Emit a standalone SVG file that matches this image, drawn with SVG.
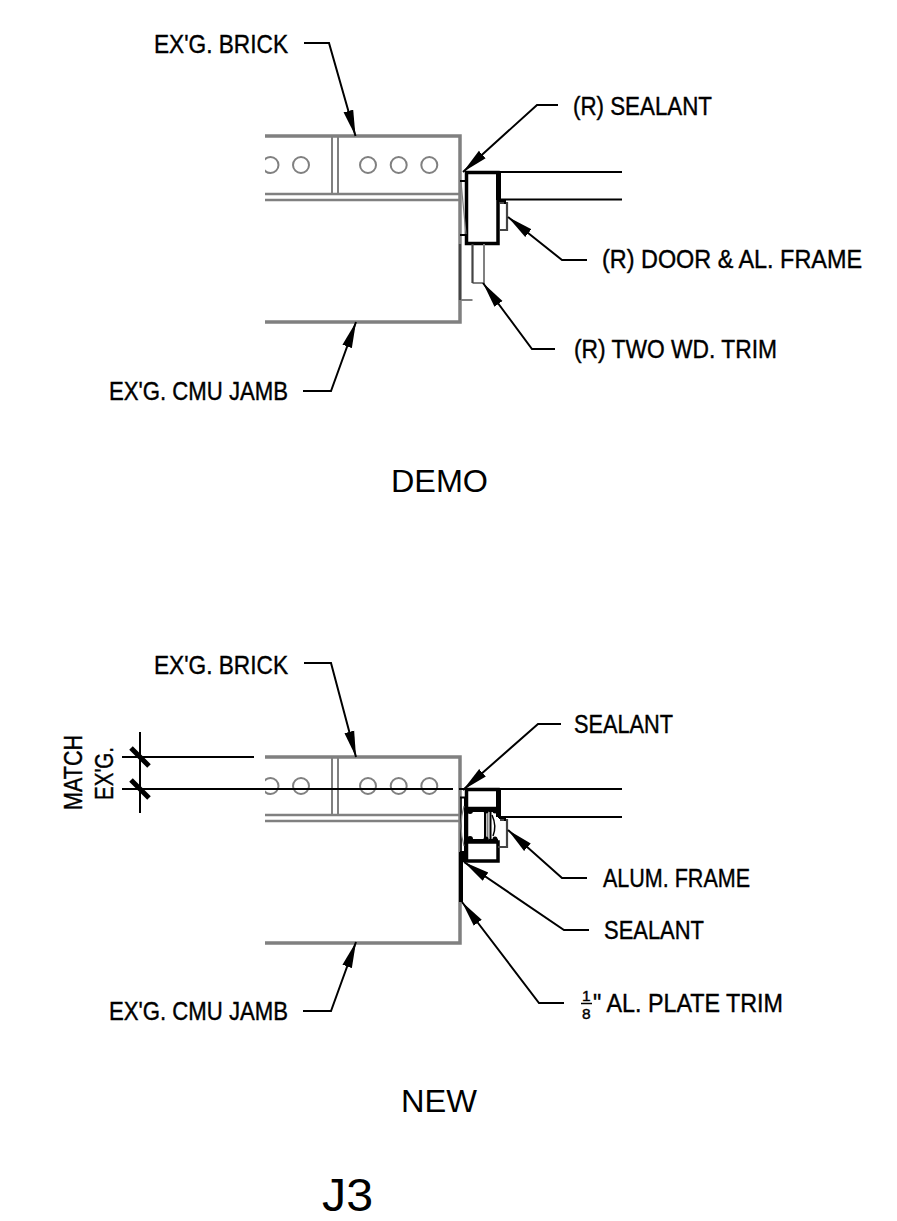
<svg xmlns="http://www.w3.org/2000/svg" width="897" height="1221" viewBox="0 0 897 1221">
<style>
.bg{fill:#fff}
.wall{fill:none;stroke:#808080;stroke-width:3.5}
.g{fill:none;stroke:#808080;stroke-width:2}
.dg{fill:none;stroke:#444;stroke-width:2.2}
.k{fill:none;stroke:#000;stroke-width:2}
.kb{fill:none;stroke:#000;stroke-width:3.500}
.s{fill:#000;stroke:none}
.lead{fill:none;stroke:#000;stroke-width:2;marker-end:url(#ah)}
.tick{stroke:#000;stroke-width:5;fill:none}
.lab{font-family:"Liberation Sans",Arial,sans-serif;font-size:25.500px;fill:#000;stroke:#000;stroke-width:.4}
.frac{font-size:15.500px}
.title{font-family:"Liberation Sans",Arial,sans-serif;fill:#000}
</style>
<defs>
<marker id="ah" markerUnits="userSpaceOnUse" markerWidth="28" markerHeight="12" refX="26" refY="6" orient="auto"><path d="M0 1 L26 6 L0 11 Z" fill="#000"/></marker>
<clipPath id="c"><rect x="265" y="100" width="200" height="900"/></clipPath>
<g id="wall">
<path class="wall" d="M265 136H460V322H265"/>
<path class="g" d="M332 136V194M338 136V194"/>
<path class="g" style="stroke-width:2.500" d="M265 194H460M265 200H460"/>
<g class="g" clip-path="url(#c)"><circle cx="270.500" cy="165" r="8"/><circle cx="301" cy="165" r="8"/><circle cx="368" cy="165" r="8"/><circle cx="398.700" cy="165" r="8"/><circle cx="429.300" cy="165" r="8"/></g>
</g>
</defs>
<rect class="bg" width="897" height="1221"/>
<g id="demo-jamb"><use href="#wall"/></g>
<g id="demo-frame">
<rect class="kb" x="466.500" y="172.500" width="31.500" height="71"/>
<rect class="s" x="496" y="171" width="5" height="29"/>
<path class="k" d="M498 172H622M498 199.500H622"/>
<path class="k" d="M460 181H466V235H460"/>
<path class="g" style="stroke-width:1.200" d="M461 182L466 234"/>
<path class="dg" d="M500 203H507V230H500"/>
<path class="k" d="M499 201H505V204"/>
</g>
<g id="demo-trim">
<path class="g" d="M472.500 300H460V244M472.500 283H484V244"/>
<path class="dg" d="M460 244V300M472.500 244V283"/>
</g>
<g id="new-jamb"><use href="#wall" y="621"/></g>
<g id="new-frame">
<rect class="kb" x="466.500" y="789.500" width="31.500" height="19"/>
<rect class="kb" x="466.500" y="842" width="31.500" height="19"/>
<rect class="s" x="496" y="788" width="5" height="29"/>
<path class="k" d="M498 789H622M498 817H622"/>
<path class="kb" d="M466.500 808V842"/>
<path class="k" d="M468 811H498M468 840H498"/>
<path class="k" d="M485 811V840M490.500 811V840"/>
<path class="g" d="M487.500 811V840"/>
<path class="k" style="stroke-width:1.500" d="M492 815Q497 826 493 836"/>
<path class="k" d="M460 797.500H466M460 852H466M465 797V862"/>
<rect class="s" x="459" y="852" width="7" height="10"/>
<path class="k" style="stroke-width:1.500" d="M461 798V852"/>
<path class="g" style="stroke-width:1.200" d="M464 806Q458 826 464 846"/>
<g class="s"><circle cx="470" cy="811" r="3"/><circle cx="470" cy="839" r="3"/><circle cx="486" cy="811" r="2.500"/><circle cx="495" cy="811" r="2.500"/><circle cx="486" cy="839" r="2.500"/><circle cx="495" cy="839" r="2.500"/></g>
<path class="dg" d="M500 820H507V847H498"/>
<path class="k" d="M499 818H505V821"/>
</g>
<g id="new-plate"><rect class="s" x="459" y="862" width="4" height="40"/></g>
<g id="dimension">
<path class="k" d="M122 757H254M122 789H453M459 789H466M140 732V813"/>
<path class="tick" d="M131 748L149 766M131 780L149 798"/>
</g>
<g id="connectors">
<polyline class="lead" points="304,43 329,43 355.500,136"/>
<polyline class="lead" points="558,105 537,105 463,172"/>
<polyline class="lead" points="587,260 562,260 508,217"/>
<polyline class="lead" points="555,349 532,349 483,283"/>
<polyline class="lead" points="303,391 331,391 356,322"/>
<polyline class="lead" points="304,663 331,663 356,757"/>
<polyline class="lead" points="561,724 538,724 463,790"/>
<polyline class="lead" points="587,878 562,878 508,830"/>
<polyline class="lead" points="589,930 564,930 464,862"/>
<polyline class="lead" points="564,1003 539,1003 462,902"/>
<polyline class="lead" points="303,1011 331,1011 356,942"/>
</g>
<g id="labels">
<g id="l1"><text class="lab" x="154" y="53" textLength="134" lengthAdjust="spacingAndGlyphs">EX'G. BRICK</text></g>
<g id="l2"><text class="lab" x="573" y="115" textLength="139" lengthAdjust="spacingAndGlyphs">(R) SEALANT</text></g>
<g id="l3"><text class="lab" x="602" y="268" textLength="260" lengthAdjust="spacingAndGlyphs">(R) DOOR &amp; AL. FRAME</text></g>
<g id="l4"><text class="lab" x="574" y="358" textLength="203" lengthAdjust="spacingAndGlyphs">(R) TWO WD. TRIM</text></g>
<g id="l5"><text class="lab" x="109" y="400" textLength="179" lengthAdjust="spacingAndGlyphs">EX'G. CMU JAMB</text></g>
<g id="l6"><text class="lab" x="154" y="674" textLength="134" lengthAdjust="spacingAndGlyphs">EX'G. BRICK</text></g>
<g id="l7"><text class="lab" x="574" y="733" textLength="99" lengthAdjust="spacingAndGlyphs">SEALANT</text></g>
<g id="l8"><text class="lab" x="603" y="887" textLength="147" lengthAdjust="spacingAndGlyphs">ALUM. FRAME</text></g>
<g id="l9"><text class="lab" x="604" y="939" textLength="100" lengthAdjust="spacingAndGlyphs">SEALANT</text></g>
<g id="l10">
<text class="lab frac" x="582" y="1001">1</text>
<path class="k" style="stroke-width:1.500" d="M581 1003.500H592"/>
<text class="lab frac" x="582" y="1019">8</text>
<text class="lab" x="593" y="1012" textLength="190" lengthAdjust="spacingAndGlyphs">" AL. PLATE TRIM</text>
</g>
<g id="l11"><text class="lab" x="109" y="1020" textLength="179" lengthAdjust="spacingAndGlyphs">EX'G. CMU JAMB</text></g>
<g id="l12"><text class="lab" transform="translate(82 810) rotate(-90)" textLength="75" lengthAdjust="spacingAndGlyphs">MATCH</text></g>
<g id="l13"><text class="lab" transform="translate(113 800) rotate(-90)" textLength="53" lengthAdjust="spacingAndGlyphs">EX'G.</text></g>
<g id="t1"><text class="title" x="391" y="492" font-size="32" textLength="97" lengthAdjust="spacingAndGlyphs">DEMO</text></g>
<g id="t2"><text class="title" x="401" y="1112" font-size="32" textLength="76" lengthAdjust="spacingAndGlyphs">NEW</text></g>
<g id="t3"><text class="title" x="322" y="1211" font-size="47" textLength="51" lengthAdjust="spacingAndGlyphs">J3</text></g>
</g>
</svg>
